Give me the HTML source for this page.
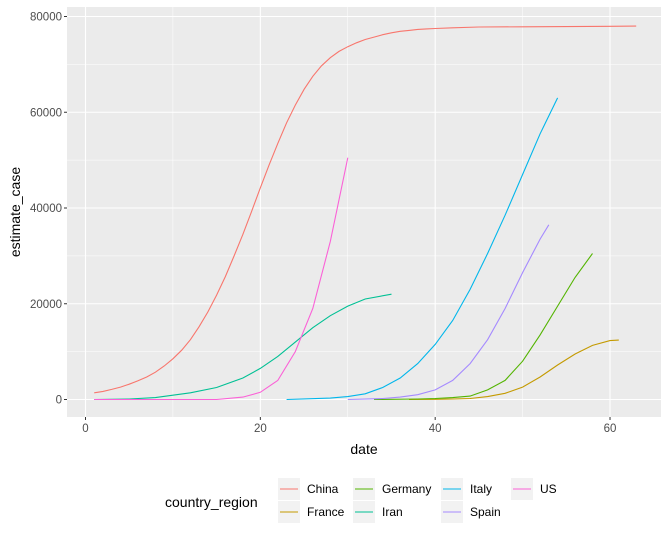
<!DOCTYPE html>
<html><head><meta charset="utf-8"><style>
body{margin:0;background:#fff;font-family:"Liberation Sans",Arial,sans-serif}
svg text{font-family:"Liberation Sans",Arial,sans-serif}
</style></head><body>
<svg id="chart" width="671" height="538" xmlns="http://www.w3.org/2000/svg"></svg>
<script>
const seriesNames=["China","France","Germany","Iran","Italy","Spain","US"];
const seriesColors=["#F8766D","#C49A00","#53B400","#00C094","#00B6EB","#A58AFF","#FB61D7"];
const chinaDates=[1,2,3,4,5,6,7,8,9,10,11,12,13,14,15,16,17,18,19,20,21,22,23,24,25,26,27,28,29,30,31,32,33,34,35,36,37,38,39,40,42,45,50,55,60,63];
const chinaValues=[1400,1700,2100,2600,3200,3900,4700,5700,7000,8500,10300,12500,15200,18300,21800,25700,30000,34500,39300,44200,49000,53500,57800,61500,64800,67500,69700,71400,72700,73700,74500,75200,75700,76200,76600,76900,77100,77300,77400,77500,77650,77800,77850,77900,77950,78000];
const franceDates=[37,40,42,44,46,48,50,52,54,56,58,60,61];
const franceValues=[0,50,100,200,600,1300,2600,4700,7200,9500,11300,12300,12400];
const germanyDates=[33,38,40,42,44,46,48,50,52,54,56,58];
const germanyValues=[0,100,200,400,700,2000,4000,8000,13500,19500,25500,30500];
const iranDates=[1,5,8,10,12,15,18,20,22,24,26,28,30,32,35];
const iranValues=[0,100,400,900,1400,2500,4500,6500,9000,12000,15000,17500,19500,21000,22000];
const italyDates=[23,28,30,32,34,36,38,40,42,44,46,48,50,52,54];
const italyValues=[0,300,600,1200,2500,4500,7500,11500,16500,23000,30500,38500,47000,55500,63000];
const spainDates=[30,34,36,38,40,42,44,46,48,50,52,53];
const spainValues=[0,200,500,1000,2000,4000,7500,12500,19000,26500,33500,36500];
const usDates=[1,15,18,20,22,24,26,28,30];
const usValues=[0,0,500,1500,4000,10000,19000,33000,50500];
const xTicks=[0,20,40,60];
const yTicks=[0,20000,40000,60000,80000];
const allDates=[chinaDates,franceDates,germanyDates,iranDates,italyDates,spainDates,usDates];
const allValues=[chinaValues,franceValues,germanyValues,iranValues,italyValues,spainValues,usValues];

const NS="http://www.w3.org/2000/svg";
const svg=document.getElementById('chart');
const P={l:67,r:661,t:7,b:417};
const x=d=>85.5+d*8.742;
const y=v=>399.5-v*383/80000;
function mk(t,a,parent){const e=document.createElementNS(NS,t);for(const k in a)e.setAttribute(k,a[k]);(parent||svg).appendChild(e);return e;}
const panel=mk('rect',{x:P.l,y:P.t,width:P.r-P.l,height:P.b-P.t,fill:'#EBEBEB'});


// minor grid
for(let i=0;i<yTicks.length-1;i++){const v=(yTicks[i]+yTicks[i+1])/2;const g=mk('line',{x1:P.l,x2:P.r,y1:y(v),y2:y(v),stroke:'#fff','stroke-width':0.5});}
for(let i=0;i<xTicks.length-1;i++){const v=(xTicks[i]+xTicks[i+1])/2;const g=mk('line',{y1:P.t,y2:P.b,x1:x(v),x2:x(v),stroke:'#fff','stroke-width':0.5});}
yTicks.forEach(v=>{
 const g=mk('line',{x1:P.l,x2:P.r,y1:y(v),y2:y(v),stroke:'#fff','stroke-width':1.1});
 const tk=mk('line',{x1:P.l-3,x2:P.l,y1:y(v),y2:y(v),stroke:'#333','stroke-width':1});
 const t=mk('text',{x:P.l-5,y:y(v)+4,'text-anchor':'end','font-size':11.5,fill:'#4D4D4D'});t.textContent=v;
});
xTicks.forEach(v=>{
 const g=mk('line',{y1:P.t,y2:P.b,x1:x(v),x2:x(v),stroke:'#fff','stroke-width':1.1});
 const tk=mk('line',{y1:P.b,y2:P.b+3,x1:x(v),x2:x(v),stroke:'#333','stroke-width':1});
 const t=mk('text',{x:x(v),y:P.b+15,'text-anchor':'middle','font-size':11.5,fill:'#4D4D4D'});t.textContent=v;
});
allDates.forEach((ds,i)=>{
 const pts=ds.map((d,j)=>x(d).toFixed(1)+','+y(allValues[i][j]).toFixed(1)).join(' ');
 const pl=mk('polyline',{points:pts,fill:'none',stroke:seriesColors[i],'stroke-width':1.1});
 
 
});
const xt=mk('text',{x:364,y:454,'text-anchor':'middle','font-size':14,fill:'#000'});xt.textContent='date';


const yt=mk('text',{x:0,y:0,'text-anchor':'middle','font-size':14,fill:'#000',transform:'translate(20,212) rotate(-90)'});yt.textContent='estimate_case';


const lt=mk('text',{x:165,y:507,'font-size':14,fill:'#000'});lt.textContent='country_region';


const colX=[278,353,441,511];
seriesNames.forEach((n,i)=>{
 const c=Math.floor(i/2),r=i%2;const kx=colX[c],ky=478+r*23;
 const g=mk('g',{});
 
 
 mk('rect',{x:kx,y:ky,width:22,height:22,fill:'#F2F2F2'},g);
 mk('line',{x1:kx+2,x2:kx+20,y1:ky+11,y2:ky+11,stroke:seriesColors[i],'stroke-width':1.1},g);
 const t=mk('text',{x:kx+29,y:ky+15,'font-size':12,fill:'#000'},g);t.textContent=n;
});
</script>
</body></html>
